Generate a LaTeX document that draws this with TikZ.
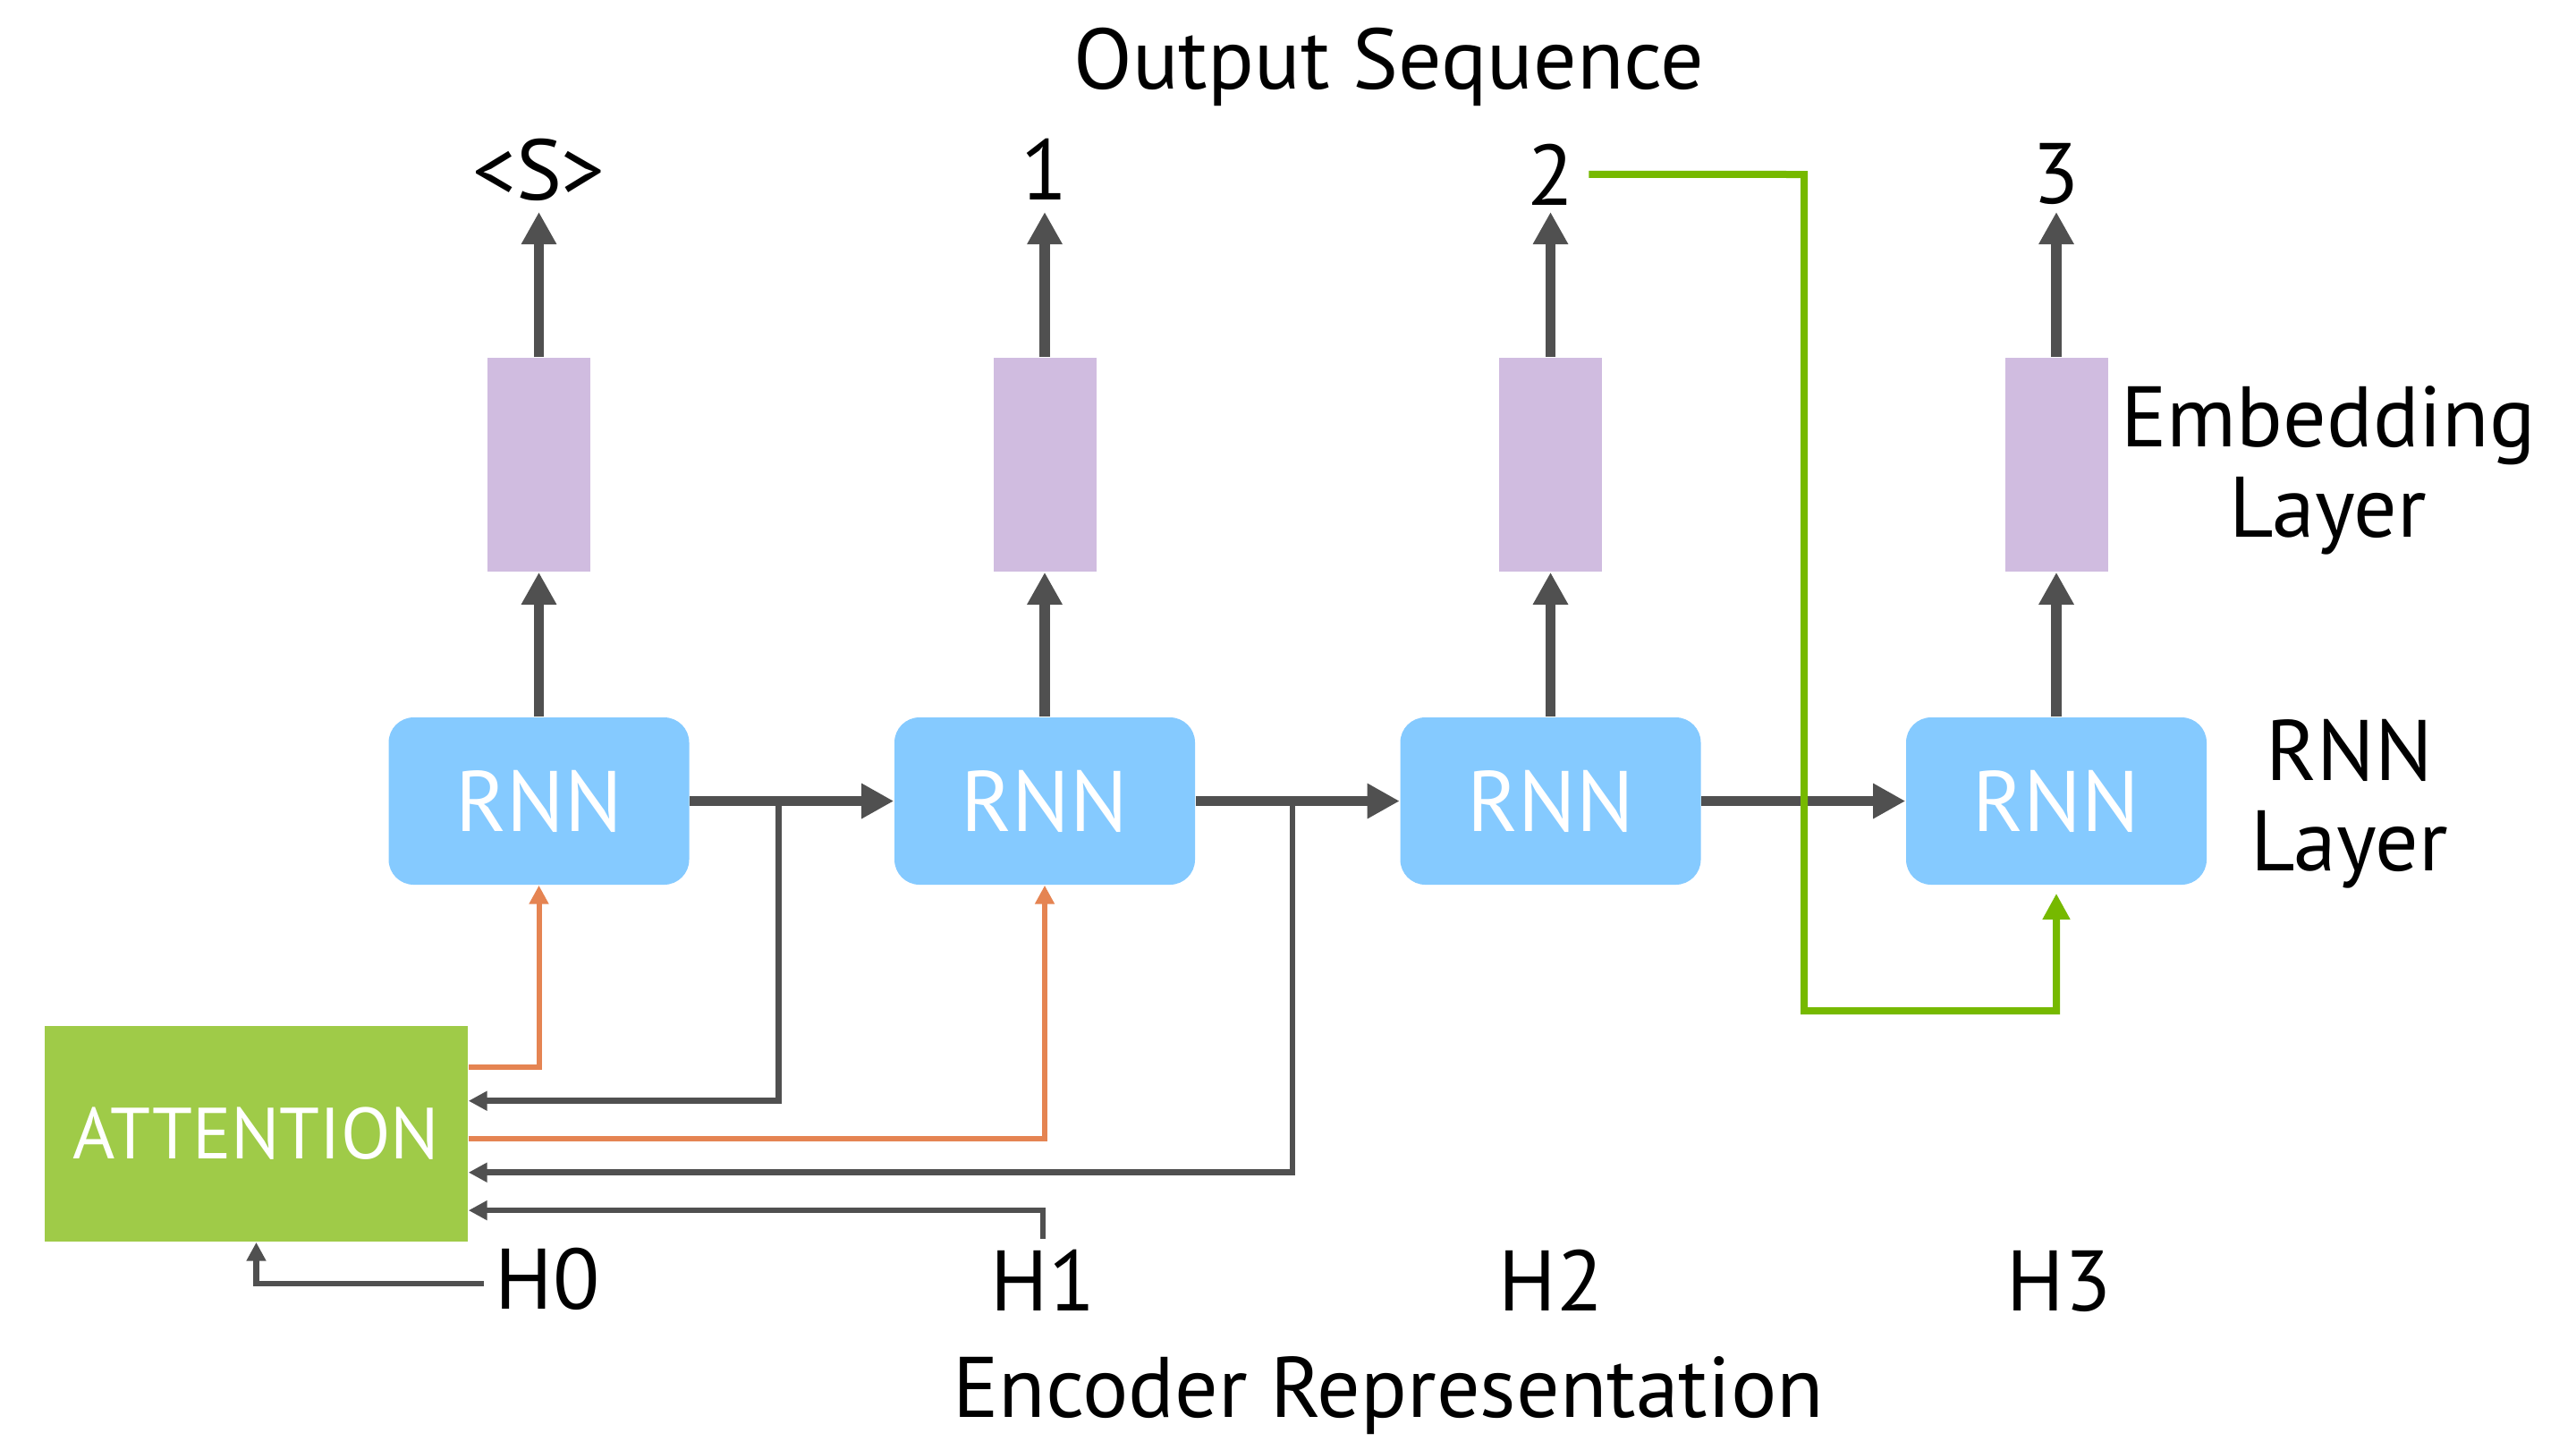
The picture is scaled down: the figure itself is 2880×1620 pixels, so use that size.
\documentclass[tikz,border=0pt]{standalone}
\usepackage{fontspec}
\setmainfont{PT Sans}
\usetikzlibrary{arrows.meta}
\definecolor{arrowgray}{HTML}{505050}
\definecolor{rnnblue}{HTML}{85CAFF}
\definecolor{embpurple}{HTML}{D0BCE0}
\definecolor{attgreen}{HTML}{9FCB48}
\definecolor{nvgreen}{HTML}{76B900}
\definecolor{attorange}{HTML}{E58452}
\begin{document}
\begin{tikzpicture}[x=0.25pt, y=-0.25pt,
  lab/.style={font=\fontsize{24pt}{25.25pt}\selectfont, inner sep=0pt, text=black},
  embbox/.style={fill=embpurple, minimum width=28.75pt, minimum height=59.75pt, inner sep=0pt},
  rnnbox/.style={fill=rnnblue, rounded corners=7pt, minimum width=84pt, minimum height=46.75pt, inner sep=0pt, text=white, font=\fontsize{24pt}{25.25pt}\selectfont},
  attbox/.style={fill=attgreen, minimum width=118.25pt, minimum height=60.25pt, inner sep=0pt, text=white, font=\fontsize{20.25pt}{22pt}\selectfont},
  bigarrow/.style={draw=arrowgray, line width=2.9pt, -{Triangle[length=9pt,width=9.25pt]}},
  thinarrow/.style={draw=arrowgray, line width=1.65pt, -{Triangle[length=5.2pt,width=5.2pt]}},
  orangearrow/.style={draw=attorange, line width=1.5pt, -{Triangle[length=5.2pt,width=5.2pt]}},
  greenarrow/.style={draw=nvgreen, line width=2pt, -{Triangle[length=7.25pt,width=7.25pt]}}
]
\fill[white] (0,0) rectangle (2880,1620);
\useasboundingbox (0,0) rectangle (2880,1620);

% embedding and RNN boxes
\foreach \i/\x in {1/602.5,2/1168,3/1733.5,4/2299} {
  \node[embbox] (e\i) at (\x,519.5) {};
  \node[rnnbox] (r\i) at (\x,895.5) {RNN};
}
\node[attbox] (att) at (286.5,1267.5) {ATTENTION};

% texts
\node[lab, anchor=base] (title) at (1553,99) {Output Sequence};
\node[lab, anchor=base] (o1) at (602.5,223) {\textless S\textgreater};
\node[lab, anchor=base] (o2) at (1168,223) {1};
\node[lab, anchor=base] (o3) at (1733.5,229) {2};
\node[lab, anchor=base] (o4) at (2299,227) {3};
\node[lab, anchor=base, align=center] (embl) at (2603,600) {Embedding\\Layer};
\node[lab, anchor=base, align=center] (rnnl) at (2627,973) {RNN\\Layer};
\node[lab, anchor=base, inner xsep=3pt] (h0) at (612,1463) {H0};
\node[lab, anchor=base] (h1) at (1166,1465) {H1};
\node[lab, anchor=base] (h2) at (1734,1465) {H2};
\node[lab, anchor=base] (h3) at (2302,1465) {H3};
\node[lab, anchor=base] (enc) at (1552,1584) {Encoder Representation};

% vertical arrows
\foreach \i in {1,...,4} {
  \draw[bigarrow] (r\i.north) -- (e\i.south);
}
\draw[bigarrow] (e1.north) -- ([yshift=-3.5pt]o1.base);
\draw[bigarrow] (e2.north) -- ([yshift=-3.5pt]o2.base);
\draw[bigarrow] (e3.north) -- ([yshift=-2pt]o3.base);
\draw[bigarrow] (e4.north) -- ([yshift=-2.5pt]o4.base);

% horizontal RNN arrows
\draw[bigarrow] (r1.east) -- (r2.west);
\draw[bigarrow] (r2.east) -- (r3.west);
\draw[bigarrow] (r3.east) -- (r4.west);

% hidden states to attention
\coordinate (b1) at (870.6,895.5);
\coordinate (b2) at (1445,895.5);
\draw[thinarrow] (b1) |- ([yshift=9.2pt]att.east);
\draw[thinarrow] (b2) |- ([yshift=-10.8pt]att.east);
\draw[thinarrow] ([yshift=2.75pt]h1.north) |- ([yshift=-21.4pt]att.east);
\draw[thinarrow] ([yshift=-1.4pt]h0.west) -| (att.south);

% attention to RNN
\draw[orangearrow] ([yshift=18.7pt]att.east) -| (r1.south);
\draw[orangearrow] ([yshift=-1.475pt]att.east) -| (r2.south);

% feedback of output 2
\coordinate (g1) at (2017,195);
\coordinate (g2) at (2017,1130);
\draw[greenarrow] ([xshift=4pt]o3.east) -- (g1) -- (g2) -| ([yshift=-2.25pt]r4.south);
\end{tikzpicture}
\end{document}
